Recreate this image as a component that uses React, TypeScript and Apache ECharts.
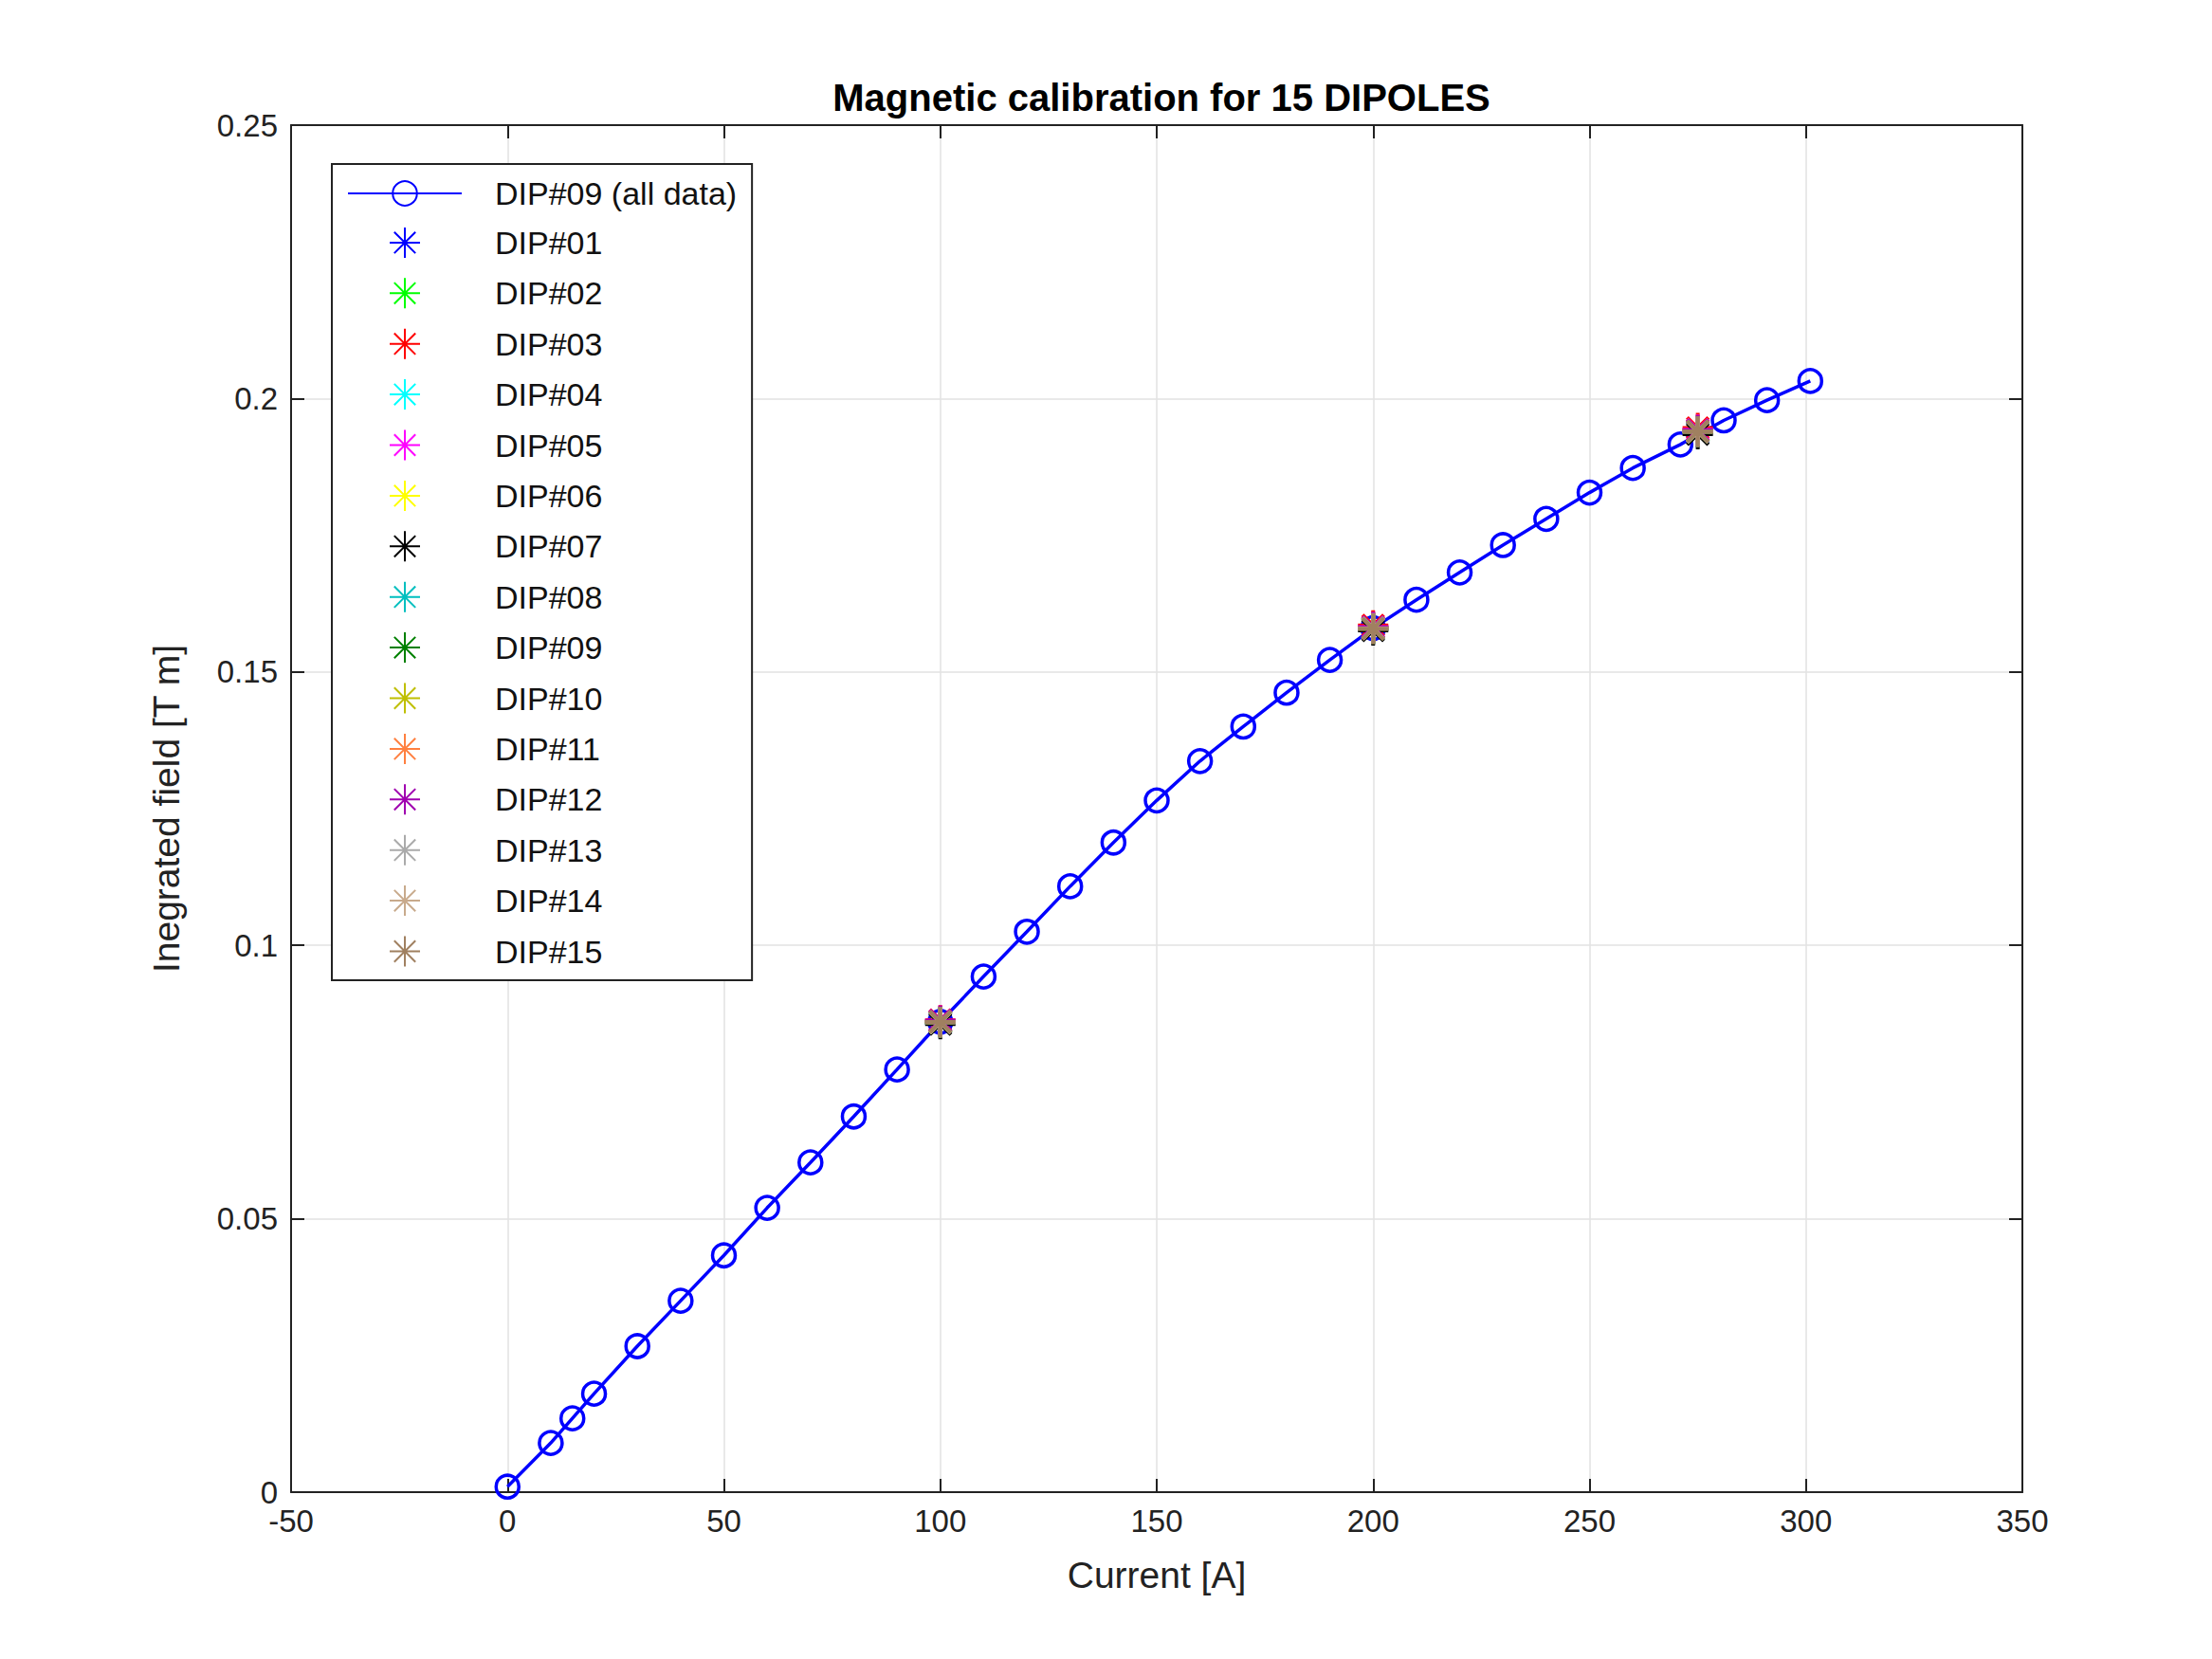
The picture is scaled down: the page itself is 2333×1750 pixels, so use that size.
import { useEffect, useRef } from "react";
import * as echarts from "echarts";

const currents = [0, 10, 15, 20, 30, 40, 50, 60, 70, 80, 90, 100, 110, 120, 130, 140, 150, 160, 170, 180, 190, 200, 210, 220, 230, 240, 250, 260, 271, 281, 291, 301];
const fields = [0.001, 0.009, 0.0135, 0.018, 0.0267, 0.035, 0.0433, 0.052, 0.0603, 0.0687, 0.0773, 0.086, 0.0943, 0.1025, 0.1108, 0.1188, 0.1265, 0.1337, 0.14, 0.1462, 0.1522, 0.158, 0.1632, 0.1682, 0.1732, 0.178, 0.1828, 0.1873, 0.1916, 0.196, 0.1997, 0.2032];

const dipCurrents = [100, 200, 275];
const dipNames = ["DIP#01", "DIP#02", "DIP#03", "DIP#04", "DIP#05", "DIP#06", "DIP#07", "DIP#08", "DIP#09", "DIP#10", "DIP#11", "DIP#12", "DIP#13", "DIP#14", "DIP#15"];
const dipColors = ["#0000ff", "#00ff00", "#ff0000", "#00ffff", "#ff00ff", "#ffff00", "#000000", "#00bfbf", "#008000", "#bfbf00", "#ff8040", "#a000b0", "#aaaaaa", "#c8aa8c", "#a08060"];
const dipFields = [
  [0.0858, 0.1578, 0.1938],
  [0.0861, 0.1581, 0.1941],
  [0.0863, 0.1585, 0.1946],
  [0.0859, 0.1579, 0.1939],
  [0.0862, 0.1582, 0.1943],
  [0.0860, 0.1580, 0.1940],
  [0.0856, 0.1576, 0.1935],
  [0.0860, 0.1580, 0.1941],
  [0.0860, 0.1580, 0.1940],
  [0.0859, 0.1579, 0.1939],
  [0.0861, 0.1581, 0.1942],
  [0.0862, 0.1582, 0.1942],
  [0.0859, 0.1579, 0.1939],
  [0.0860, 0.1580, 0.1940],
  [0.0860, 0.1579, 0.1940],
];

const star = "path://M10,0L10,20M0,10L20,10M3,3L17,17M3,17L17,3";
const font = "Liberation Sans";

const App = () => {
  const ref = useRef<HTMLDivElement>(null);

  useEffect(() => {
    document.body.style.margin = "0";
    if (!ref.current) return;
    const chart = echarts.init(ref.current, undefined, { renderer: "svg" });
    const axisLabel = { fontSize: 33, color: "#222", fontFamily: font, margin: 14 };
    const splitLine = { show: true, lineStyle: { color: "#e2e2e2", width: 1.5 } };
    const axisLine = { show: true, onZero: false, lineStyle: { color: "#222", width: 2 } };
    const axisTick = { show: true, inside: true, length: 14, lineStyle: { color: "#222", width: 2 } };
    const option: echarts.EChartsOption = {
      animation: false,
      backgroundColor: "#fff",
      title: {
        text: "Magnetic calibration for 15 DIPOLES",
        left: 1220,
        top: 78,
        textAlign: "center",
        textStyle: { fontSize: 40, fontWeight: "bold", color: "#000", fontFamily: font },
      },
      grid: { left: 307, right: 200, top: 132, bottom: 176 },
      xAxis: [
        {
          type: "value", min: -50, max: 350, interval: 50,
          name: "Current [A]", nameLocation: "middle", nameGap: 68,
          nameTextStyle: { fontSize: 39, color: "#222", fontFamily: font },
          axisLabel, splitLine, axisLine, axisTick,
        },
        { type: "value", position: "top", min: -50, max: 350, interval: 50, axisLabel: { show: false }, splitLine: { show: false }, axisLine, axisTick },
      ],
      yAxis: [
        {
          type: "value", min: 0, max: 0.25, interval: 0.05,
          name: "Inegrated field [T m]", nameLocation: "middle", nameGap: 112,
          nameTextStyle: { fontSize: 39, color: "#222", fontFamily: font },
          axisLabel: { ...axisLabel, formatter: (v: number) => String(Math.round(v * 100) / 100) },
          splitLine, axisLine, axisTick,
        },
        { type: "value", position: "right", min: 0, max: 0.25, interval: 0.05, axisLabel: { show: false }, splitLine: { show: false }, axisLine, axisTick },
      ],
      legend: {
        orient: "vertical",
        left: 350,
        top: 173,
        padding: [14, 16, 12, 16],
        backgroundColor: "#fff",
        borderColor: "#222",
        borderWidth: 2,
        itemWidth: 120,
        itemHeight: 32,
        itemGap: 16.4,
        textStyle: { fontSize: 34, color: "#111", fontFamily: font, padding: [0, 0, 0, 30] },
        data: [{ name: "DIP#09 (all data)" }, ...dipNames.map((n) => ({ name: n }))],
      },
      series: [
        {
          name: "DIP#09 (all data)",
          type: "line",
          data: currents.map((c, i) => [c, fields[i]]),
          symbol: "circle",
          symbolSize: 24,
          lineStyle: { color: "#0000ff", width: 3.5 },
          itemStyle: { color: "rgba(0,0,0,0)", borderColor: "#0000ff", borderWidth: 3.5 },
          z: 2,
        },
        ...dipNames.map((n, k) => ({
          name: n,
          type: "scatter" as const,
          data: dipCurrents.map((c, i) => [c, dipFields[k][i]]),
          symbol: star,
          symbolSize: 32,
          itemStyle: { color: "none", borderColor: dipColors[k], borderWidth: 4, opacity: 1 },
          z: 3,
        })),
      ],
    };
    chart.setOption(option);
    return () => chart.dispose();
  }, []);

  return <div ref={ref} style={{ width: 2333, height: 1750 }} />;
};

export default App;
